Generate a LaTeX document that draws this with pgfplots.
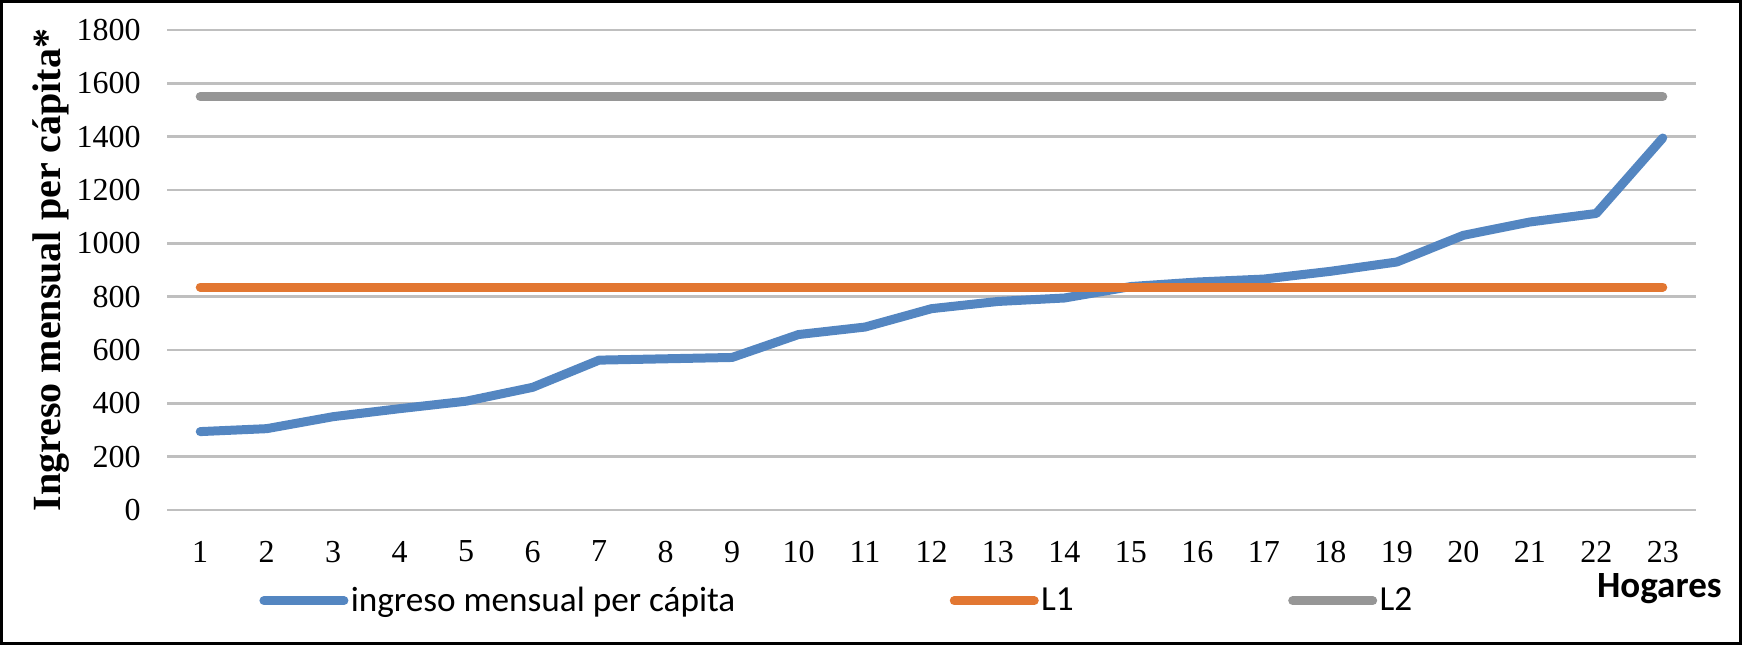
\documentclass[border=0pt]{standalone}
\usepackage{fontspec}
\setmainfont{Liberation Serif}
\newfontfamily\calibri{Carlito}
\usepackage{pgfplots}
\usepackage{pgfplotstable}
\pgfplotsset{compat=1.18}
\definecolor{cblue}{RGB}{84,134,193}
\definecolor{corange}{RGB}{226,119,50}
\definecolor{cgray}{RGB}{150,150,150}
\definecolor{cgrid}{RGB}{191,191,191}
\pgfplotstableread{
x ing L1 L2
1 294 836 1550
2 305 836 1550
3 350 836 1550
4 380 836 1550
5 408 836 1550
6 460 836 1550
7 562 836 1550
8 567 836 1550
9 572 836 1550
10 658 836 1550
11 686 836 1550
12 755 836 1550
13 782 836 1550
14 795 836 1550
15 838 836 1550
16 855 836 1550
17 866 836 1550
18 895 836 1550
19 930 836 1550
20 1030 836 1550
21 1080 836 1550
22 1112 836 1550
23 1395 836 1550
}\datatable
\begin{document}
\begin{tikzpicture}
\useasboundingbox (0,0) rectangle (871bp,322.5bp);
\draw[black, line width=1.5bp] (0.75bp,0.75bp) rectangle (870.25bp,321.75bp);
\begin{axis}[
  at={(83.5bp,67.5bp)}, anchor=south west,
  scale only axis, width=764.5bp, height=240bp,
  xmin=0.5, xmax=23.5, ymin=0, ymax=1800,
  xtick={1,...,23}, ytick={0,200,...,1800},
  major tick length=0pt,
  axis line style={draw=none},
  ymajorgrids, major grid style={cgrid, line width=1.2bp},
  /pgf/number format/assume math mode=true,
  /pgf/number format/1000 sep={},
  tick label style={font=\fontsize{16bp}{19bp}\selectfont},
  yticklabel style={anchor=east, inner sep=0pt, xshift=-13bp},
  xticklabel style={anchor=north, inner sep=0pt, yshift=-15.3bp},
  ylabel={Ingreso mensual per cápita*},
  every axis y label/.style={at={(axis description cs:-0.0758,0.5)}, rotate=90, anchor=center, inner sep=0pt, font=\bfseries\fontsize{20bp}{24bp}\selectfont},
  xlabel={Hogares},
  every axis x label/.style={at={(axis description cs:1,0)}, anchor=base east, inner sep=0pt, xshift=13bp, yshift=-43.5bp, font=\calibri\bfseries\fontsize{18.5bp}{22bp}\selectfont},
  legend columns=3,
  legend image code/.code={\draw[#1, line width=4.5bp, line cap=round] (0bp,0bp) -- (40bp,0bp);},
  legend style={at={(axis description cs:0.0602,-0.189)}, anchor=west, draw=none, fill=none, inner sep=0pt,
    nodes={inner sep=1.2bp}, font=\calibri\fontsize{17.6bp}{20bp}\selectfont,
    /tikz/every even column/.append style={column sep=106bp}},
]
\addplot[cblue, line width=4.5bp, line cap=round, line join=round] table[x=x, y=ing] {\datatable};
\addlegendentry{ingreso mensual per cápita}
\addplot[corange, line width=4.5bp, line cap=round] table[x=x, y=L1] {\datatable};
\addlegendentry{L1}
\addplot[cgray, line width=4.5bp, line cap=round] table[x=x, y=L2] {\datatable};
\addlegendentry{L2}
\end{axis}
\end{tikzpicture}
\end{document}
